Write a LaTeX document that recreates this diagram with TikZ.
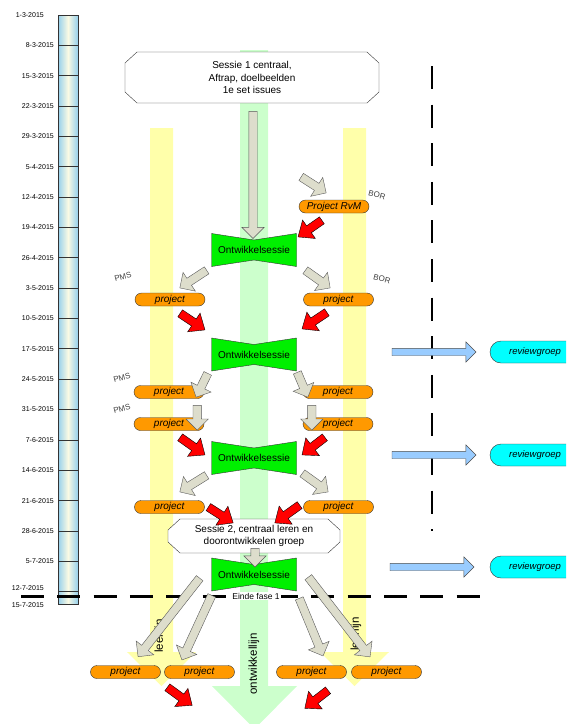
\documentclass[tikz,border=0pt]{standalone}
\usepackage{fontspec}
\setmainfont{Liberation Sans}
\usepackage{tikz}
\usepackage{xcolor}
\usetikzlibrary{calc, shapes.arrows}

\definecolor{bandgreen}{RGB}{204,255,204}
\definecolor{bandyellow}{RGB}{255,255,170}
\definecolor{sessgreen}{RGB}{0,240,0}
\definecolor{projorange}{RGB}{255,153,0}
\definecolor{flowgray}{RGB}{221,221,204}
\definecolor{reviewblue}{RGB}{153,204,255}
\definecolor{reviewcyan}{RGB}{0,255,255}
\definecolor{tlblue}{RGB}{150,208,236}
\definecolor{tlcream}{RGB}{250,250,228}

\tikzset{
  fat/.style={single arrow, inner sep=4pt, single arrow head extend=7pt,
    single arrow tip angle=90, minimum width=0pt},
  grayarrow/.style={fat, fill=flowgray, draw=black!65},
  redarrow/.style={fat, fill=red, draw=black, single arrow tip angle=80},
  bluearrow/.style={fat, fill=reviewblue, draw=black!70, inner sep=3.5pt,
    single arrow head extend=6.5pt},
  project/.style={draw=black!80, fill=projorange, rounded corners=6.5pt,
    minimum width=70pt, minimum height=13pt, inner sep=0pt,
    font=\fontsize{10}{12}\selectfont\itshape},
  review/.style={draw=black!80, fill=reviewcyan, rounded corners=11pt,
    minimum width=90pt, minimum height=22pt, inner sep=0pt,
    font=\fontsize{9.5}{11}\selectfont\itshape},
  central/.style={inner sep=0pt, align=center, font=\fontsize{10}{12.5}\selectfont},
  sessie/.style={minimum width=85pt, minimum height=33pt, inner sep=0pt,
    font=\fontsize{10}{12}\selectfont},
  datum/.style={anchor=east, inner sep=0pt, font=\fontsize{7}{8}\selectfont},
  tag/.style={inner sep=0pt, text=black!75, font=\fontsize{8}{9}\selectfont},
  lijn/.style={rotate=90, inner sep=0pt, font=\fontsize{11.5}{12}\selectfont},
  pics/bowtie/.style={code={
    \draw[fill=sessgreen, draw=black!80] (-42.5,-16.5) -- (0,-10) -- (42.5,-16.5)
      -- (42.5,16.5) -- (0,10) -- (-42.5,16.5) -- cycle;}},
  pics/octbox/.style 2 args={code={
    \draw[fill=white, draw=black!80] ({-#1+12},{-#2}) -- ({#1-12},{-#2}) -- ({#1},{-#2+11})
      -- ({#1},{#2-11}) -- ({#1-12},{#2}) -- ({-#1+12},{#2}) -- ({-#1},{#2-11})
      -- ({-#1},{-#2+11}) -- cycle;}}
}

% block arrow from #2 to #3
\newcommand{\fatarrow}[3][grayarrow]{%
  \path let \p1=#2, \p2=#3, \n1={atan2(\y2-\y1,\x2-\x1)},
    \n2={veclen(\x2-\x1,\y2-\y1)} in
    node[#1, minimum height=\n2, rotate=\n1, anchor=tail] at (\p1) {};}

\begin{document}
\begin{tikzpicture}[x=1pt, y=-1pt]
    \useasboundingbox (0,0) rectangle (566,724);
    \clip (0,0) rectangle (566,724);

    % Timeline
    \shade[left color=tlblue, right color=tlblue, middle color=tlcream] (58,15) rectangle (78,604.5);
    \draw[black!80, line width=0.8pt] (58,15) rectangle (78,604.5);
    \node[datum] (d0) at (44,15) {1-3-2015};
    \foreach \d [count=\k] in {8-3,15-3,22-3,29-3,5-4,12-4,19-4,26-4,3-5,10-5,
        17-5,24-5,31-5,7-6,14-6,21-6,28-6,5-7} {
        \draw[black!80, line width=0.8pt] (58,{15+30.35*\k}) -- (78,{15+30.35*\k});
        \node[datum] (d\k) at (54,{15+30.35*\k}) {\d-2015};
    }
    \draw[black!80, line width=0.8pt] (58,591.7) -- (78,591.7);
    \node[datum] (d19) at (44,588) {12-7-2015};
    \node[datum] (d20) at (44,605) {15-7-2015};

    % Development line and learning lines
    \fill[bandgreen] (240,50) -- (268,50) -- (268,686) -- (297,686) -- (254.5,729)
        -- (212,686) -- (240,686) -- cycle;
    \fill[bandyellow] (150,128) -- (173,128) -- (173,652) -- (196,652) -- (161.5,686)
        -- (127,652) -- (150,652) -- cycle;
    \fill[bandyellow] (343,128) -- (366,128) -- (366,652) -- (389,652) -- (354.5,686)
        -- (320,652) -- (343,652) -- cycle;
    \node[lijn] (leerl) at (160,636) {leerlijn};
    \node[lijn] (leerr) at (356,634) {leerlijn};
    \node[lijn] (ontw) at (254,664) {ontwikkellijn};

    % Phase borders
    \draw[line width=1.2pt, dash pattern=on 23pt off 15.6pt] (432,66) -- (432,531);
    \draw[line width=3pt, dash pattern=on 23pt off 13.3pt] (21,596) -- (482,596);
    \node[fill=white, inner sep=1pt, font=\fontsize{8.5}{10}\selectfont] (einde) at (256,596) {Einde fase 1};

    % Sessions
    \pic at (252,77.5) {octbox={127}{25.5}};
    \node[central, minimum width=254pt, minimum height=51pt] (s1) at (252,77.5)
        {Sessie 1 centraal,\\Aftrap, doelbeelden\\1e set issues};
    \foreach \n/\y in {ow1/250, ow2/354.5, ow3/458, ow4/574.5} {
        \pic at (254,\y) {bowtie};
        \node[sessie] (\n) at (254,\y) {Ontwikkelsessie};
    }
    \pic at (254,536) {octbox={86}{17}};
    \node[central, minimum width=172pt, minimum height=34pt] (s2) at (254,536)
        {Sessie 2, centraal leren en\\doorontwikkelen groep};

    % Projects
    \node[project] (rvm) at (334,206.5) {Project RvM};
    \node[project] (p1l) at (170,299.5) {project};
    \node[project] (p1r) at (338.5,299.5) {project};
    \node[project] (p2l) at (169,392) {project};
    \node[project] (p2r) at (338,392) {project};
    \node[project] (p3l) at (169,424) {project};
    \node[project] (p3r) at (338,424) {project};
    \node[project] (p4l) at (169.5,507) {project};
    \node[project] (p4r) at (338.5,507) {project};
    \node[project] (b1) at (125.5,672) {project};
    \node[project] (b2) at (199.5,672) {project};
    \node[project] (b3) at (311.5,672) {project};
    \node[project] (b4) at (386.5,672) {project};

    % Tags
    \node[tag, rotate=-15] (bor1) at (377,195) {BOR};
    \node[tag, rotate=-15] (bor2) at (382,279) {BOR};
    \node[tag, rotate=15] (pms1) at (123,277) {PMS};
    \node[tag, rotate=15] (pms2) at (122,378) {PMS};
    \node[tag, rotate=15] (pms3) at (122,409) {PMS};

    % Review groups
    \node[review] (rg1) at (535,352) {reviewgroep};
    \node[review] (rg2) at (535,455) {reviewgroep};
    \node[review] (rg3) at (535,567) {reviewgroep};
    \fatarrow[bluearrow]{($(rg1.west)+(-98,0)$)}{($(rg1.west)+(-14,0)$)}
    \fatarrow[bluearrow]{($(rg2.west)+(-98,0)$)}{($(rg2.west)+(-14,0)$)}
    \fatarrow[bluearrow]{($(rg3.west)+(-100,0)$)}{($(rg3.west)+(-16,0)$)}

    % Flow arrows
    \fatarrow{($(s1.south)+(1,8)$)}{($(ow1.north)+(-1,5)$)}
    \fatarrow{($(rvm.north)+(-33,-23)$)}{($(rvm.north)+(-8,-7)$)}
    \fatarrow{($(ow1.south west)+(-4.5,3.5)$)}{($(p1l.north)+(10,-5)$)}
    \fatarrow{($(ow1.south east)+(8.5,3.5)$)}{($(p1r.north)+(-8.5,-5)$)}
    \fatarrow{($(ow2.south west)+(-3.5,2)$)}{($(p2l.east)+(-8,5)$)}
    \fatarrow{($(ow2.south east)+(0.5,1)$)}{($(p2r.west)+(5,5)$)}
    \fatarrow{($(p2l.south east)+(-7,6.5)$)}{($(p3l.east)+(-7,6)$)}
    \fatarrow{($(p2r.south west)+(9,6.5)$)}{($(p3r.west)+(9,6)$)}
    \fatarrow{($(ow3.south west)+(-4.5,0.5)$)}{($(p4l.north)+(10.5,-8.5)$)}
    \fatarrow{($(ow3.south east)+(5.5,-1.5)$)}{($(p4r.north)+(-10.5,-8.5)$)}
    \fatarrow{($(s2.south)+(1,-5)$)}{($(ow4.north)+(1,9)$)}
    \fatarrow{($(ow4.west)+(-11.5,3.5)$)}{($(b1.north)+(12.5,-8.5)$)}
    \fatarrow{($(ow4.south west)+(0.5,4)$)}{($(b2.north)+(-17.5,-5.5)$)}
    \fatarrow{($(ow4.south east)+(2.5,7)$)}{($(b3.north)+(11.5,-9.5)$)}
    \fatarrow{($(ow4.east)+(11.5,2.5)$)}{($(b4.north)+(-16.5,-8.5)$)}

    % Project results into the sessions
    \fatarrow[redarrow]{($(rvm.south)+(-12,7)$)}{($(ow1.north east)+(1.5,3.5)$)}
    \fatarrow[redarrow]{($(p1l.south)+(10,7)$)}{($(ow2.north west)+(-6.5,-8)$)}
    \fatarrow[redarrow]{($(p1r.south)+(-11.5,6)$)}{($(ow2.north east)+(5.5,-9)$)}
    \fatarrow[redarrow]{($(p3l.south)+(11,6.5)$)}{($(ow3.north west)+(-6.5,13.5)$)}
    \fatarrow[redarrow]{($(p3r.south)+(-13,6.5)$)}{($(ow3.north east)+(5.5,13.5)$)}
    \fatarrow[redarrow]{($(p4l.east)+(3.5,0)$)}{($(s2.north)+(-21,4)$)}
    \fatarrow[redarrow]{($(p4r.west)+(-3.5,-2)$)}{($(s2.north)+(21,4)$)}
    \fatarrow[redarrow]{($(b1.south east)+(6.5,8.5)$)}{($(b2.south)+(-7.5,26.5)$)}
    \fatarrow[redarrow]{($(b3.south east)+(-18.5,11.5)$)}{($(b3.south)+(-6.5,29.5)$)}
\end{tikzpicture}
\end{document}
